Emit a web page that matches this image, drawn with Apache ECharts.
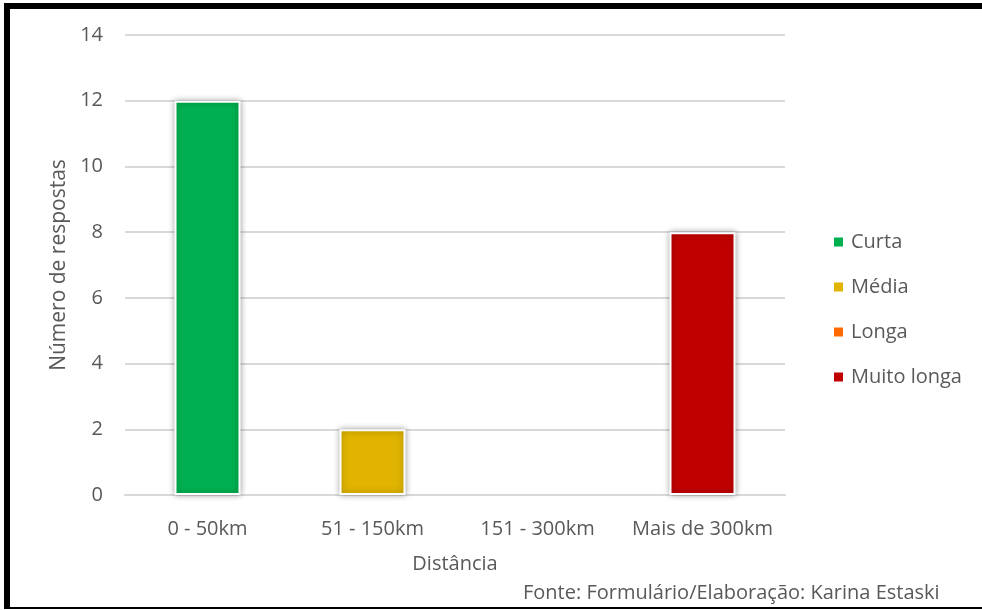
<!DOCTYPE html>
<html>
<head>
<meta charset="utf-8">
<script src="https://cdn.jsdelivr.net/npm/echarts@6/dist/echarts.min.js"></script>
<style>
  html, body { margin: 0; padding: 0; background: #fff; }
  #chart { width: 982px; height: 610px; }
</style>
</head>
<body>
<div id="chart"></div>
<script>
// Distance categories on the x axis
const categories = ['0 - 50km', '51 - 150km', '151 - 300km', 'Mais de 300km'];

// Number of answers per distance class (one class per category)
const curta = [12, null, null, null];
const media = [null, 2, null, null];
const longa = [null, null, null, null];
const muitoLonga = [null, null, null, 8];

const seriesNames = ['Curta', 'Média', 'Longa', 'Muito longa'];
const seriesColors = ['#00B050', '#E0B400', '#FF6A00', '#C00000'];
const seriesData = [curta, media, longa, muitoLonga];

const yTicks = { min: 0, max: 14, interval: 2 };

const FONT = '"Open Sans", "Noto Sans", sans-serif';
const TEXT = '#595959';

const chart = echarts.init(document.getElementById('chart'), null, { renderer: 'canvas' });

chart.setOption({
  backgroundColor: '#ffffff',
  animation: false,
  textStyle: { fontFamily: FONT, color: TEXT },
  grid: { left: 125, right: 197, top: 35, bottom: 115 },
  legend: {
    orient: 'vertical',
    left: 827,
    top: 225,
    itemWidth: 11,
    itemHeight: 11,
    itemGap: 21,
    icon: 'rect',
    textStyle: { fontFamily: FONT, fontSize: 20, color: TEXT, lineHeight: 24, padding: [0, 0, 0, 2] },
    data: seriesNames
  },
  xAxis: {
    type: 'category',
    data: categories,
    axisTick: { show: false },
    axisLine: { lineStyle: { color: '#d9d9d9', width: 2 } },
    axisLabel: { fontFamily: FONT, fontSize: 20, color: TEXT, margin: 24, interval: 0, hideOverlap: false },
    name: 'Distância',
    nameLocation: 'middle',
    nameGap: 59,
    nameTextStyle: { fontFamily: FONT, fontSize: 20, color: TEXT }
  },
  yAxis: {
    type: 'value',
    min: yTicks.min,
    max: yTicks.max,
    interval: yTicks.interval,
    axisLine: { show: false },
    axisTick: { show: false },
    splitLine: { lineStyle: { color: '#d9d9d9', width: 2 } },
    axisLabel: { fontFamily: FONT, fontSize: 20, color: TEXT, margin: 22 },
    name: 'Número de respostas',
    nameLocation: 'middle',
    nameGap: 54,
    nameTextStyle: { fontFamily: FONT, fontSize: 21, color: TEXT }
  },
  series: seriesNames.map((name, i) => ({
    name: name,
    type: 'bar',
    stack: 'total',
    data: seriesData[i],
    barWidth: 66,
    itemStyle: {
      color: seriesColors[i],
      borderColor: '#ffffff',
      borderWidth: 2,
      shadowBlur: 6,
      shadowColor: 'rgba(0,0,0,0.35)'
    }
  })),
  graphic: [
    // frame around the figure
    { type: 'line', shape: { x1: 4, y1: 6, x2: 982, y2: 6 }, style: { stroke: '#000', lineWidth: 6 } },
    { type: 'line', shape: { x1: 7, y1: 3, x2: 7, y2: 609 }, style: { stroke: '#000', lineWidth: 6 } },
    { type: 'line', shape: { x1: 4, y1: 608, x2: 982, y2: 608 }, style: { stroke: '#000', lineWidth: 2 } },
    {
      type: 'text',
      left: 523,
      top: 583,
      style: {
        text: 'Fonte: Formulário/Elaboração: Karina Estaski',
        font: '20px ' + FONT,
        fill: TEXT
      }
    }
  ]
});
</script>
</body>
</html>
